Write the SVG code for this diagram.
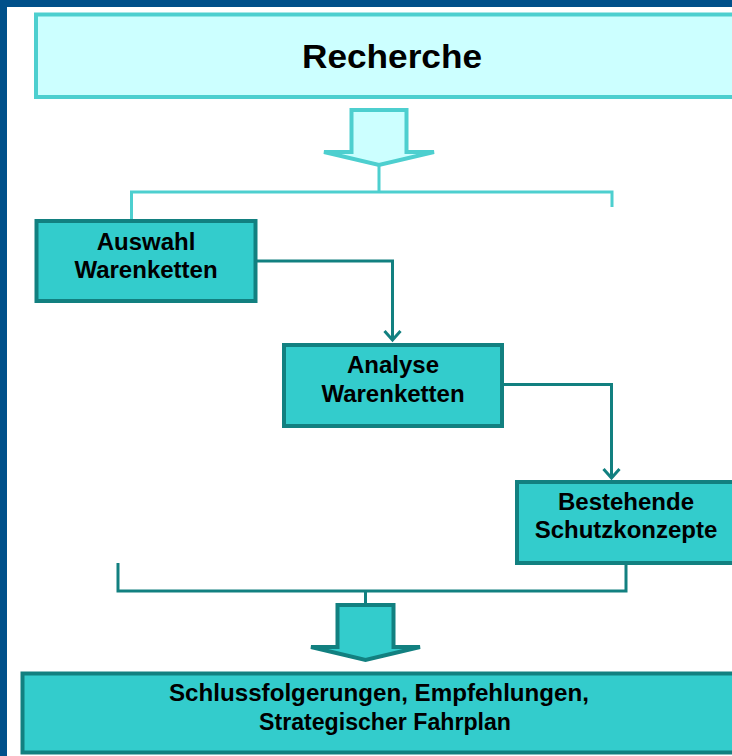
<svg xmlns="http://www.w3.org/2000/svg" width="732" height="756" viewBox="0 0 732 756">
<defs>
<style>
.lbl{font-family:"Liberation Sans",Arial,sans-serif;font-weight:bold;fill:#000;text-anchor:middle}
.node{fill:#33cccc;stroke:#128080;stroke-width:4}
.lite{fill:none;stroke:#4dcfcf;stroke-width:3}
.dark{fill:none;stroke:#128080;stroke-width:3}
</style>
<marker id="vh" markerUnits="userSpaceOnUse" markerWidth="20" markerHeight="14" refX="9" refY="11" orient="0" viewBox="0 0 18 14">
<polyline points="1,2 9,11 17,2" fill="none" stroke="#128080" stroke-width="3"/>
</marker>
</defs>
<rect x="0" y="0" width="732" height="756" fill="#00508a"/>
<rect x="7" y="7" width="725" height="749" fill="#ffffff"/>

<g id="recherche">
<rect x="36" y="14.5" width="720" height="82.5" fill="#ccffff" stroke="#4dcfcf" stroke-width="4"/>
<text class="lbl" x="392" y="67.5" font-size="34" textLength="180" lengthAdjust="spacingAndGlyphs">Recherche</text>
</g>

<g id="connectors">
<polygon points="351.5,110 406.5,110 406.5,152 434,152 379,165 324,152 351.5,152" fill="#ccffff" stroke="#4dcfcf" stroke-width="4" stroke-linejoin="miter"/>
<path class="lite" d="M379,165 V192 M131.5,219 V192 H612 V207"/>
<path class="dark" d="M257,261 H392.5 V340" marker-end="url(#vh)"/>
<path class="dark" d="M504,384.5 H611.5 V478" marker-end="url(#vh)"/>
<path class="dark" d="M118,563 V591 H626 V564 M365.5,591 V605"/>
<polygon points="337.5,605 393.5,605 393.5,647 420,647 365.5,660 311,647 337.5,647" fill="#33cccc" stroke="#128080" stroke-width="4"/>
</g>

<g id="auswahl">
<rect class="node" x="36.5" y="221" width="219" height="80"/>
<text class="lbl" x="146" y="250" font-size="24">Auswahl</text>
<text class="lbl" x="146" y="278" font-size="24">Warenketten</text>
</g>

<g id="analyse">
<rect class="node" x="284" y="345" width="218" height="81"/>
<text class="lbl" x="393" y="373" font-size="24">Analyse</text>
<text class="lbl" x="393" y="402" font-size="24">Warenketten</text>
</g>

<g id="bestehende">
<rect class="node" x="517" y="482" width="230" height="81"/>
<text class="lbl" x="626" y="510" font-size="24">Bestehende</text>
<text class="lbl" x="626" y="538" font-size="24">Schutzkonzepte</text>
</g>

<g id="schluss">
<rect class="node" x="22.5" y="673.5" width="730" height="79"/>
<text class="lbl" x="379" y="701" font-size="23" textLength="420" lengthAdjust="spacingAndGlyphs">Schlussfolgerungen, Empfehlungen,</text>
<text class="lbl" x="385" y="730" font-size="23" textLength="252" lengthAdjust="spacingAndGlyphs">Strategischer Fahrplan</text>
</g>
</svg>
